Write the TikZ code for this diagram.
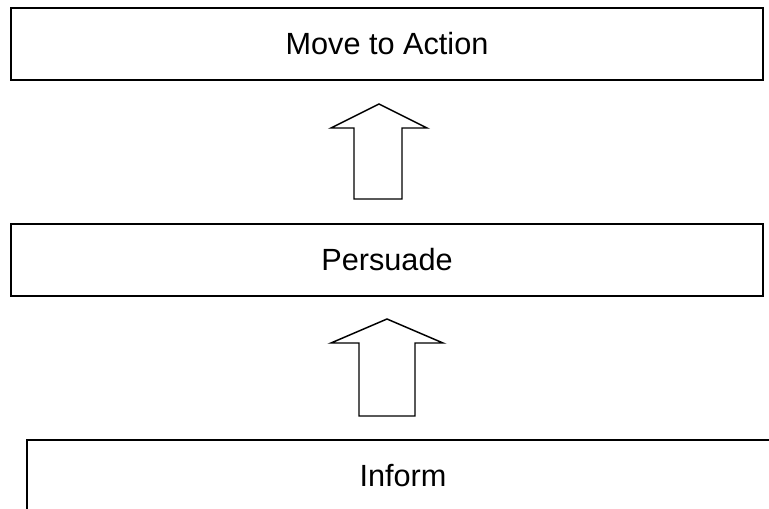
\documentclass[tikz,border=0pt]{standalone}
\usepackage{fontspec}
\setmainfont{Liberation Sans}
\begin{document}
\begin{tikzpicture}[x=0.75pt,y=-0.75pt,
  stage/.style={draw, line width=1.5pt, inner sep=0pt,
    minimum width=564pt, minimum height=54pt,
    font=\fontsize{23}{27}\selectfont},
  blockarrow/.style={draw, line width=1.1pt, line join=miter, fill=white}]
\useasboundingbox (0,0) rectangle (769,508);
\clip (0,0) rectangle (769,508);
% the three stages, bottom to top
\node[stage] (action) at (387,44) {Move to Action};
\node[stage] (persuade) at (387,260) {Persuade};
\node[stage] (inform) at (403,476) {Inform};
% hollow arrows leading upward between the stages
\draw[blockarrow] (354,199) -- (354,128) -- (331,128) -- (379,104)
  -- (427,128) -- (402,128) -- (402,199) -- cycle;
\draw[blockarrow] (359,416) -- (359,343) -- (331,343) -- (387,319)
  -- (443,343) -- (415,343) -- (415,416) -- cycle;
\end{tikzpicture}
\end{document}
